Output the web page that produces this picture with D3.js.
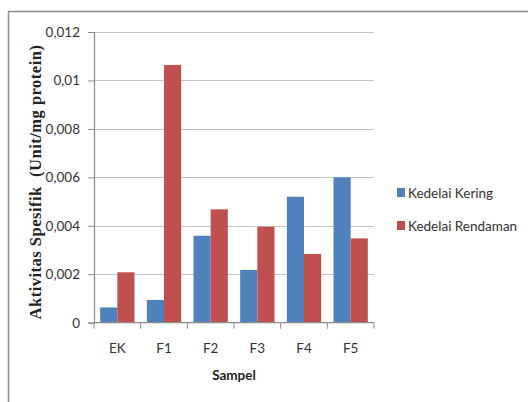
<!DOCTYPE html>
<html>
<head>
<meta charset="utf-8">
<script src="https://cdn.jsdelivr.net/npm/d3@7"></script>
<style>
  html, body { margin: 0; padding: 0; background: #fff; }
  svg { display: block; }
</style>
</head>
<body>
<svg id="chart" width="528" height="402"></svg>
<script>
// Sample groups and the two soybean series
const categories = ["EK", "F1", "F2", "F3", "F4", "F5"];
const seriesNames = ["Kedelai Kering", "Kedelai Rendaman"];
const kedelaiKering = [0.00063, 0.00094, 0.00359, 0.00218, 0.0052, 0.0060];
const kedelaiRendaman = [0.00208, 0.01064, 0.00468, 0.00396, 0.00284, 0.00348];
const yTicks = [0, 0.002, 0.004, 0.006, 0.008, 0.01, 0.012];
const yTickLabels = ["0", "0,002", "0,004", "0,006", "0,008", "0,01", "0,012"];
const colors = ["#4F81BD", "#C0504D"];

const svg = d3.select("#chart");
const font = "Lato, 'Open Sans', sans-serif";

// outer frame (top and left edges visible)
svg.append("path")
  .attr("d", "M8.5,402 L8.5,11.5 L528,11.5")
  .attr("fill", "none")
  .attr("stroke", "#8c8c8c")
  .attr("stroke-width", 1.5);

const plot = { left: 94, right: 374, top: 32, bottom: 322.7 };

const x0 = d3.scaleBand().domain(categories).range([plot.left, plot.right]).paddingInner(0).paddingOuter(0);
const x1 = d3.scaleBand().domain(seriesNames).range([0, x0.bandwidth()]).paddingOuter(0.36).paddingInner(0);
const y = d3.scaleLinear().domain([0, 0.012]).range([plot.bottom, plot.top]);

// horizontal gridlines
svg.append("g")
  .selectAll("line")
  .data(yTicks.filter(d => d > 0))
  .join("line")
  .attr("x1", plot.left).attr("x2", plot.right)
  .attr("y1", d => Math.round(y(d)) + 0.5).attr("y2", d => Math.round(y(d)) + 0.5)
  .attr("stroke", "#c4c4c4").attr("stroke-width", 1.2);

// bars
const series = [kedelaiKering, kedelaiRendaman];
const groups = svg.append("g")
  .selectAll("g")
  .data(categories)
  .join("g")
  .attr("transform", d => `translate(${x0(d)},0)`);

groups.selectAll("rect")
  .data((c, i) => seriesNames.map((s, j) => ({ s, j, v: series[j][i] })))
  .join("rect")
  .attr("x", d => x1(d.s))
  .attr("width", x1.bandwidth())
  .attr("y", d => y(d.v))
  .attr("height", d => y(0) - y(d.v))
  .attr("fill", d => colors[d.j]);

// y axis
const yAxis = d3.axisLeft(y)
  .tickValues(yTicks)
  .tickFormat((d, i) => yTickLabels[i])
  .tickSize(6)
  .tickPadding(8);
const gy = svg.append("g").attr("transform", `translate(${plot.left},0)`).call(yAxis);
gy.select(".domain").attr("stroke", "#8c8c8c").attr("stroke-width", 1.2);
gy.selectAll(".tick line").attr("stroke", "#8c8c8c");
gy.selectAll(".tick text")
  .attr("font-family", font).attr("font-size", 13.5).attr("fill", "#333");

// x axis with boundary ticks between groups
const gx = svg.append("g").attr("transform", `translate(0,${plot.bottom})`);
gx.append("line")
  .attr("x1", plot.left).attr("x2", plot.right)
  .attr("y1", 0).attr("y2", 0)
  .attr("stroke", "#8c8c8c").attr("stroke-width", 1.2);
const boundaries = categories.map(c => x0(c)).concat([plot.right]);
gx.selectAll("line.b")
  .data(boundaries)
  .join("line")
  .attr("class", "b")
  .attr("x1", d => d).attr("x2", d => d)
  .attr("y1", 0).attr("y2", 6)
  .attr("stroke", "#8c8c8c");
gx.selectAll("text")
  .data(categories)
  .join("text")
  .attr("x", d => x0(d) + x0.bandwidth() / 2)
  .attr("y", 30)
  .attr("text-anchor", "middle")
  .attr("font-family", font).attr("font-size", 13.5).attr("fill", "#333")
  .text(d => d);

// axis titles
svg.append("text")
  .attr("x", 234).attr("y", 380)
  .attr("text-anchor", "middle")
  .attr("font-family", font).attr("font-weight", "bold").attr("font-size", 13.5).attr("fill", "#222")
  .text("Sampel");

svg.append("text")
  .attr("transform", "translate(41,182) rotate(-90)")
  .attr("text-anchor", "middle")
  .attr("font-family", "'Liberation Serif', 'Times New Roman', serif")
  .attr("font-weight", "bold").attr("font-size", 16.5).attr("fill", "#222")
  .attr("letter-spacing", 0.5)
  .text("Aktivitas Spesifik\u00a0\u00a0(Unit/mg protein)");

// legend
const legend = svg.append("g").attr("transform", "translate(397,188)");
const items = legend.selectAll("g")
  .data(seriesNames)
  .join("g")
  .attr("transform", (d, i) => `translate(0,${i * 33})`);
items.append("rect")
  .attr("width", 8).attr("height", 9)
  .attr("fill", (d, i) => colors[i]);
items.append("text")
  .attr("x", 11).attr("y", 9.5)
  .attr("font-family", font).attr("font-size", 13.5).attr("fill", "#333")
  .text(d => d);
</script>
</body>
</html>
